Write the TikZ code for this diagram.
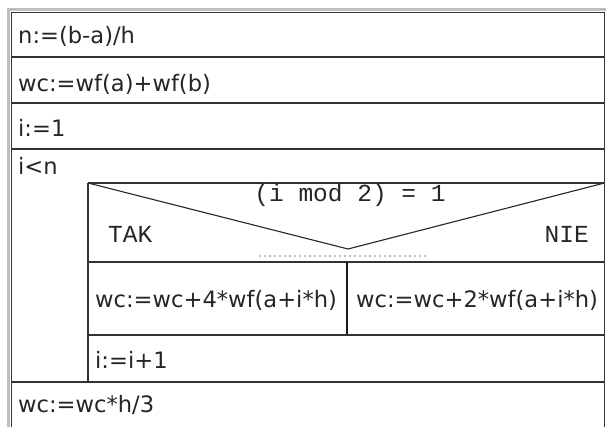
\documentclass[tikz,border=0pt]{standalone}
\usepackage{fontspec}
\setmainfont{DejaVu Sans}
\setmonofont{Liberation Mono}
\begin{document}
\begin{tikzpicture}[x=1pt,y=-1pt,
  rule/.style={draw=black!80, line width=1.8pt},
  diag/.style={draw=black!85, line width=1.1pt},
  lbl/.style={anchor=base west, inner sep=0pt, font=\fontsize{22.6}{27}\selectfont, text=black!85},
  mono/.style={inner sep=0pt, font=\ttfamily\fontsize{24.5}{28}\selectfont, text=black!85}]
\useasboundingbox (0,0) rectangle (606,427);
\fill[white] (0,0) rectangle (606,427);
% window frame
\draw[black!25, line width=3pt] (8.5,427) -- (8.5,9.5) -- (606,9.5);
% outer box
\draw[rule] (11.5,427) -- (11.5,12.5) -- (604.5,12.5) -- (604.5,427);
\draw[rule] (11.5,57) -- (604.5,57);
\draw[rule] (11.5,103) -- (604.5,103);
\draw[rule] (11.5,149) -- (604.5,149);
% loop body
\draw[rule] (88,183) -- (604.5,183);
\draw[rule] (88,183) -- (88,382);
\draw[diag] (88,183) -- (348,249) -- (604.5,183);
\draw[black!25, line width=1.5pt, dash pattern=on 2pt off 3pt] (259,256) -- (427,256);
\draw[rule] (88,262) -- (604.5,262);
\draw[draw=black!90, line width=2.4pt] (347,262) -- (347,335);
\draw[rule] (88,335) -- (604.5,335);
\draw[rule] (11.5,382) -- (604.5,382);
% texts
\node[lbl] (t1) at (18,44) {n:=(b-a)/h};
\node[lbl] (t2) at (18,92) {wc:=wf(a)+wf(b)};
\node[lbl] (t3) at (18,137) {i:=1};
\node[lbl] (t4) at (18,175) {i<n};
\node[mono, anchor=base] (cond) at (350,202) {(i mod 2) = 1};
\node[mono, anchor=base west] (tak) at (108,243) {TAK};
\node[mono, anchor=base east] (nie) at (589,243) {NIE};
\node[lbl] (a1) at (95,308) {wc:=wc+4*wf(a+i*h)};
\node[lbl] (a2) at (356,308) {wc:=wc+2*wf(a+i*h)};
\node[lbl] (a3) at (95,369) {i:=i+1};
\node[lbl] (a4) at (18,413) {wc:=wc*h/3};
\end{tikzpicture}
\end{document}
